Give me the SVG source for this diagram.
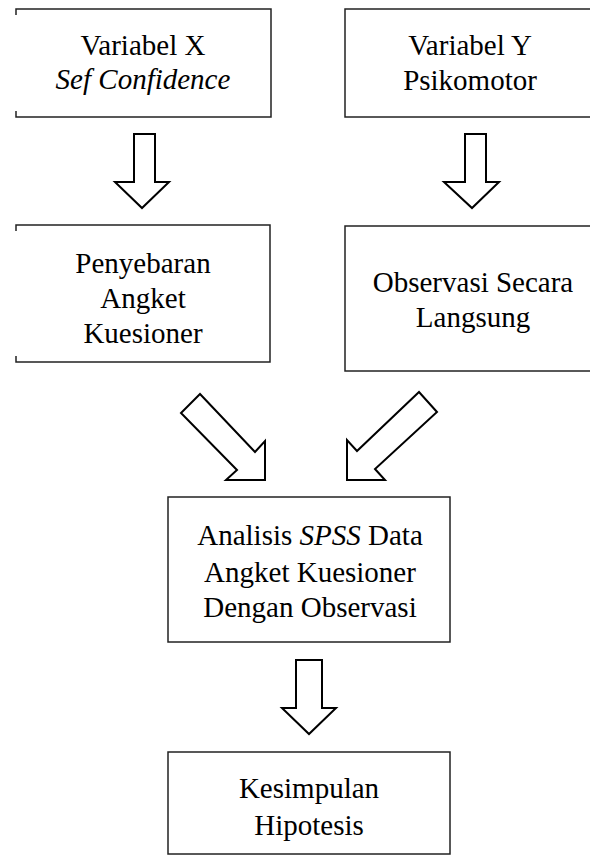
<svg xmlns="http://www.w3.org/2000/svg" width="590" height="856" viewBox="0 0 590 856">
<style>
.box{fill:#fff;stroke:#222;stroke-width:1.5}
.edge{fill:none;stroke:#222;stroke-width:1.5}
.arr{fill:#fff;stroke:#000;stroke-width:2;stroke-linejoin:miter}
text{font-family:'Liberation Serif',Tinos,'Times New Roman',Times,serif;font-size:29px;fill:#000;text-anchor:middle}
.it{font-style:italic}
</style>
<rect width="590" height="856" fill="#fff"/>
<g id="node-varx">
<path class="edge" d="M16,15 V9 H271 V117 H16 V111"/>
<text x="143" y="55">Variabel X</text>
<text x="143" y="89" class="it">Sef Confidence</text>
</g>
<g id="node-vary">
<rect class="box" x="345" y="9" width="260" height="108"/>
<text x="470" y="55">Variabel Y</text>
<text x="470" y="90">Psikomotor</text>
</g>
<g id="node-angket">
<path class="edge" d="M16,231 V225 H270 V362 H16 V356"/>
<text x="143" y="273">Penyebaran</text>
<text x="143" y="308">Angket</text>
<text x="143" y="343">Kuesioner</text>
</g>
<g id="node-observasi">
<rect class="box" x="345" y="226" width="260" height="145"/>
<text x="473" y="292">Observasi Secara</text>
<text x="473" y="327">Langsung</text>
</g>
<g id="node-analisis">
<rect class="box" x="168" y="497" width="282" height="145"/>
<text x="310" y="545">Analisis <tspan class="it">SPSS</tspan> Data</text>
<text x="310" y="582">Angket Kuesioner</text>
<text x="310" y="617">Dengan Observasi</text>
</g>
<g id="node-kesimpulan">
<rect class="box" x="168" y="752" width="282" height="102"/>
<text x="309" y="798">Kesimpulan</text>
<text x="309" y="835">Hipotesis</text>
</g>
<g id="connectors">
<polygon class="arr" points="134,134 155,134 155,182 169,182 142,208 115,182 134,182"/>
<polygon class="arr" points="465,134 486,134 486,182 499,182 472,208 444,182 465,182"/>
<polygon class="arr" points="200,394 181,413 237,470 226,480 265,480 265,441 255,452"/>
<polygon class="arr" points="419,392 437,412 375,469 385,480 347,480 347,440 357,451"/>
<polygon class="arr" points="296,660 322,660 322,708 336,708 309,734 282,708 296,708"/>
</g>
</svg>
